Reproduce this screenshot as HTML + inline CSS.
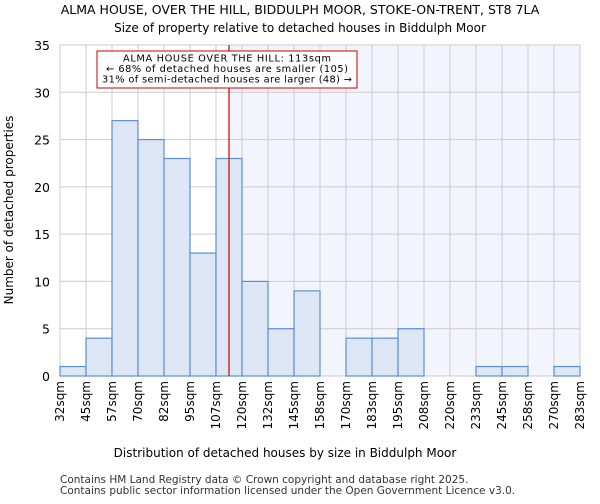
<!DOCTYPE html>
<html><head><meta charset="utf-8"><style>
body{margin:0;background:#fff;font-family:"DejaVu Sans","Liberation Sans",sans-serif;}
</style></head><body>
<svg id="c" width="600" height="500" xmlns="http://www.w3.org/2000/svg" font-family="DejaVu Sans, Liberation Sans, sans-serif">
<text x="300" y="14" text-anchor="middle" font-size="12.5">ALMA HOUSE, OVER THE HILL, BIDDULPH MOOR, STOKE-ON-TRENT, ST8 7LA</text>
<text x="300" y="32" text-anchor="middle" font-size="12">Size of property relative to detached houses in Biddulph Moor</text>
<g id="plot"></g>
<text x="285" y="457" text-anchor="middle" font-size="12">Distribution of detached houses by size in Biddulph Moor</text>
<text transform="translate(13,210) rotate(-90)" text-anchor="middle" font-size="12">Number of detached properties</text>
<text x="60" y="483" font-size="10.5" fill="#333">Contains HM Land Registry data © Crown copyright and database right 2025.</text>
<text x="60" y="494" font-size="10.5" fill="#333">Contains public sector information licensed under the Open Government Licence v3.0.</text>
</svg>
<script>
const categories=["32sqm","45sqm","57sqm","70sqm","82sqm","95sqm","107sqm","120sqm","132sqm","145sqm","158sqm","170sqm","183sqm","195sqm","208sqm","220sqm","233sqm","245sqm","258sqm","270sqm","283sqm"];
const counts=[1,4,27,25,23,13,23,10,5,9,0,4,4,5,0,0,1,1,0,1];
const yTicks=[0,5,10,15,20,25,30,35];
const markerBin=6.5;
const NS="http://www.w3.org/2000/svg";
const g=document.getElementById('plot');
const x0=60,x1=580,yTop=45,yBot=376,yMax=35;
const nb=counts.length,bw=(x1-x0)/nb;
const xs=i=>x0+i*bw;
const ys=v=>yBot-(v/yMax)*(yBot-yTop);
function mk(t,a){const e=document.createElementNS(NS,t);for(const k in a)e.setAttribute(k,a[k]);g.appendChild(e);return e;}
const mx=xs(markerBin);
let e=mk('rect',{x:mx,y:yTop,width:x1-mx,height:yBot-yTop,fill:'#f2f5fd'});


for(let i=0;i<=nb;i++){e=mk('line',{x1:xs(i),x2:xs(i),y1:yTop,y2:yBot,stroke:'#cccccc','stroke-width':1});

}
yTicks.forEach(v=>{e=mk('line',{x1:x0,x2:x1,y1:ys(v),y2:ys(v),stroke:'#cccccc','stroke-width':1});


e=mk('text',{x:x0-10,y:ys(v)+5,'text-anchor':'end','font-size':'12.5'});e.textContent=v;

});
counts.forEach((c,i)=>{if(c<=0)return;e=mk('rect',{x:xs(i),y:ys(c),width:bw,height:yBot-ys(c),fill:'#dce6f5',stroke:'#5b8fd6','stroke-width':1.2});

});
categories.forEach((c,i)=>{const x=xs(i)+4;e=mk('text',{x:x,y:381,'text-anchor':'end','font-size':'12',transform:`rotate(-90 ${x} 381)`});e.textContent=c;

});
e=mk('line',{x1:mx,x2:mx,y1:yTop,y2:yBot,stroke:'#cc0000','stroke-width':1.2});


e=mk('rect',{x:97,y:51,width:260,height:37,fill:'#fff',stroke:'#cc0000','stroke-width':1});


["ALMA HOUSE OVER THE HILL: 113sqm","← 68% of detached houses are smaller (105)","31% of semi-detached houses are larger (48) →"].forEach((t,i)=>{e=mk('text',{x:227,y:61.5+i*10.5,'text-anchor':'middle','font-size':'9.8','textLength':i==0?'208':(i==1?'242':'250')});e.textContent=t;

});
</script>
</body></html>
